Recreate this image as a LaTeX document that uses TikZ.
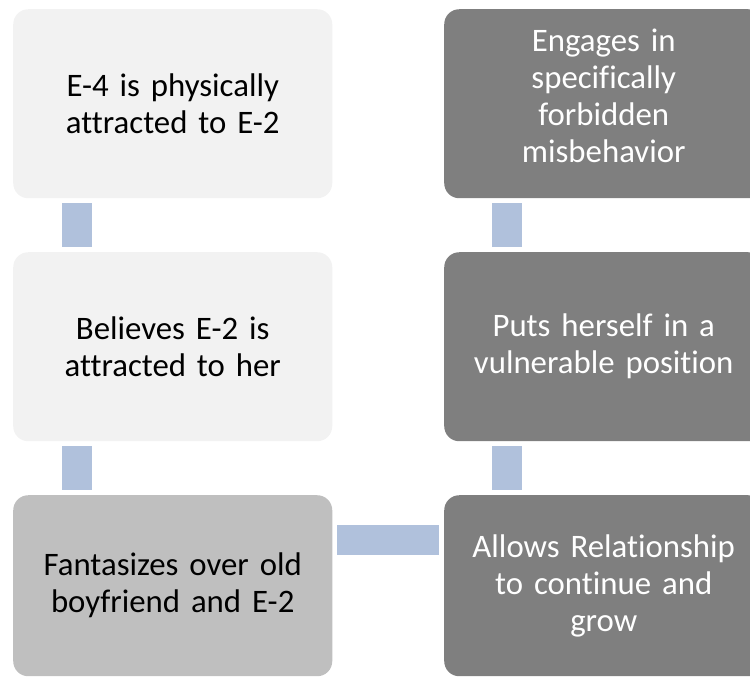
\documentclass[tikz,border=0pt]{standalone}
\usepackage{fontspec}
\setmainfont{Carlito}[Ligatures=NoCommon]
\usetikzlibrary{positioning}
\definecolor{boxlight}{RGB}{242,242,242}
\definecolor{boxmid}{RGB}{191,191,191}
\definecolor{boxdark}{RGB}{127,127,127}
\definecolor{linkblue}{RGB}{176,193,220}

\begin{document}
\begin{tikzpicture}[x=0.03cm, y=-0.03cm,
  stage/.style={anchor=north west, rounded corners=0.45cm, inner sep=0pt,
      minimum width=9.57cm, minimum height=5.67cm, text width=8.7cm, align=center,
      font=\fontsize{28}{31.6}\selectfont},
  lightstage/.style={stage, fill=boxlight, text=black},
  darkstage/.style={stage, fill=boxdark, text=white},
  link/.style={draw=linkblue, line width=0.9cm, shorten <=0.15cm, shorten >=0.15cm}]
\useasboundingbox (0,0) rectangle (750,677);
\clip (0,0) rectangle (750,677);

% left column
\node[lightstage] (attr) at (13,9) {E-4 is physically\\attracted to E-2};
\node[lightstage] (beli) at (13,252) {Believes E-2 is\\attracted to her};
\node[lightstage, fill=boxmid, minimum height=5.43cm] (fant) at (13,495)
      {Fantasizes over old\\boyfriend and E-2};

% right column
\node[darkstage] (enga) at (444,9)
      {Engages in\\specifically\\forbidden\\misbehavior\par\vspace{0.5cm}};
\node[darkstage] (puts) at (444,252) {Puts herself in a\\vulnerable position};
\node[darkstage, minimum height=5.43cm] (allo) at (444,495)
      {Allows Relationship\\to continue and\\grow};

% connectors
\draw[link] ([xshift=1.92cm]attr.south west) -- ([xshift=1.92cm]beli.north west);
\draw[link] ([xshift=1.92cm]beli.south west) -- ([xshift=1.92cm]fant.north west);
\draw[link] ([yshift=-1.35cm]fant.north east) -- ([yshift=-1.35cm]allo.north west);
\draw[link] ([xshift=1.89cm]allo.north west) -- ([xshift=1.89cm]puts.south west);
\draw[link] ([xshift=1.89cm]puts.north west) -- ([xshift=1.89cm]enga.south west);
\end{tikzpicture}
\end{document}
